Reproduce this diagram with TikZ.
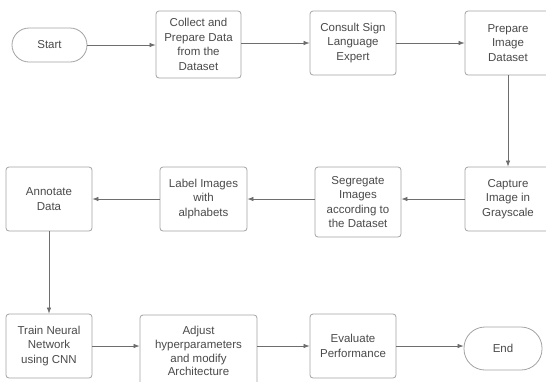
\documentclass[tikz,border=0pt]{standalone}
\usepackage{fontspec}
\setmainfont{Liberation Sans}
\usetikzlibrary{arrows.meta}
\definecolor{txt}{HTML}{4A4A4A}
\definecolor{edge}{HTML}{A3A3A3}
\definecolor{link}{HTML}{6E6E6E}
\tikzset{
  stepbox/.style={draw=edge, line width=0.8pt, rounded corners=3pt, fill=white,
    text=txt, align=center, inner sep=2pt,
    font=\fontsize{11.5}{14.5}\selectfont},
  terminal/.style={stepbox, rounded corners=17pt},
  flow/.style={draw=link, line width=0.7pt, -{Latex[length=6pt,width=4.5pt]}}
}
\begin{document}
\begin{tikzpicture}[x=1pt,y=-1pt]
\useasboundingbox (0,0) rectangle (546,381);
% top row
\node[terminal, minimum width=75pt, minimum height=34pt] (start) at (49.5,45) {Start};
\node[stepbox, minimum width=85pt, minimum height=67pt] (collect) at (198.5,44.5) {Collect and\\Prepare Data\\from the\\Dataset};
\node[stepbox, minimum width=86pt, minimum height=64pt] (consult) at (353,43) {Consult Sign\\Language\\Expert};
\node[stepbox, minimum width=86pt, minimum height=64pt] (prepare) at (508,43) {Prepare\\Image\\Dataset};
% middle row
\node[stepbox, minimum width=86pt, minimum height=64pt] (capture) at (508,199) {Capture\\Image in\\Grayscale};
\node[stepbox, minimum width=86pt, minimum height=70pt] (segregate) at (358,202) {Segregate\\Images\\according to\\the Dataset};
\node[stepbox, minimum width=87pt, minimum height=64pt] (label) at (203.5,199) {Label Images\\with\\alphabets};
\node[stepbox, minimum width=86pt, minimum height=64pt] (annotate) at (49,199) {Annotate\\Data};
% bottom row
\node[stepbox, minimum width=86pt, minimum height=64pt] (train) at (49,346) {Train Neural\\Network\\using CNN};
\node[stepbox, minimum width=117pt, minimum height=72pt, font=\fontsize{11.5}{13.8}\selectfont] (adjust) at (198.5,351) {Adjust\\hyperparameters\\and modify\\Architecture};
\node[stepbox, minimum width=86pt, minimum height=64pt] (evaluate) at (353,346) {Evaluate\\Performance};
\node[terminal, minimum width=78pt, minimum height=43pt, rounded corners=21pt] (end) at (503,348.5) {End};
% connectors
\draw[flow] (start.east) -- (collect.west |- start.east);
\draw[flow] (collect.east |- consult.west) -- (consult.west);
\draw[flow] (consult.east) -- (prepare.west);
\draw[flow] (prepare.south) -- (capture.north);
\draw[flow] (capture.west) -- (segregate.east |- capture.west);
\draw[flow] (segregate.west |- label.east) -- (label.east);
\draw[flow] (label.west) -- (annotate.east);
\draw[flow] (annotate.south) -- (train.north);
\draw[flow] (train.east) -- (adjust.west |- train.east);
\draw[flow] (adjust.east |- evaluate.west) -- (evaluate.west);
\draw[flow] (evaluate.east) -- (end.west |- evaluate.east);
\end{tikzpicture}
\end{document}
